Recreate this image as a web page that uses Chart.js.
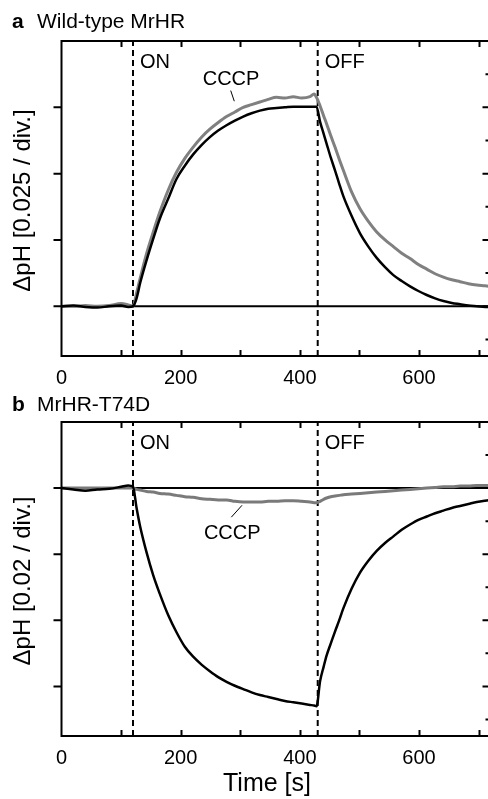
<!DOCTYPE html>
<html>
<head>
<meta charset="utf-8">
<script src="https://cdn.jsdelivr.net/npm/chart.js@4.4.1/dist/chart.umd.min.js"></script>
<style>
  html, body { margin: 0; padding: 0; background: #fff; overflow: hidden; width: 488px; height: 799px; }
  canvas { position: absolute; left: 0; }
  #panelA { top: 0; }
  #panelB { top: 395px; }
</style>
</head>
<body>
<canvas id="panelA" width="496" height="395"></canvas>
<canvas id="panelB" width="496" height="404"></canvas>
<script>
// time axis shared by both traces [s]
const times = [0, 20, 40, 60, 80, 100, 112, 120, 126, 132, 143, 154, 165, 179, 193, 207,
  221, 235, 249, 263, 277, 291, 305, 319, 333, 347, 361, 375, 389, 403, 417, 424,
  428, 434, 440, 445, 452, 459, 466, 473, 487, 501, 515, 529, 543, 557, 571, 585,
  599, 613, 627, 641, 655, 669, 683, 697, 711, 720];

// a: Wild-type MrHR (dpH)
const wtControl = [0, 0.00025, -0.00025, -0.0005, 0, 0.00025, -0.00025, 0, 0.003, 0.00875, 0.0175, 0.0255, 0.033, 0.0405, 0.048, 0.053,
  0.05725, 0.06075, 0.06375, 0.06625, 0.06825, 0.07, 0.0715, 0.07275, 0.07375, 0.0745, 0.07475, 0.075, 0.07525, 0.07525, 0.07525, 0.07525,
  0.07525, 0.0695, 0.065, 0.06125, 0.056, 0.05125, 0.04625, 0.0415, 0.034, 0.0275, 0.0225, 0.01825, 0.01475, 0.01175, 0.0095, 0.0075,
  0.00575, 0.00425, 0.003, 0.002, 0.00125, 0.00075, 0.00025, 0, -0.00025, -0.00025];
const wtCCCP = [0, 0, 0.00025, 0, 0.00025, 0.001, 0.0005, 0, 0.005, 0.0105, 0.02, 0.028, 0.0355, 0.04375, 0.0505, 0.05575,
  0.06, 0.06375, 0.06675, 0.06925, 0.0715, 0.07325, 0.075, 0.076, 0.077, 0.078, 0.07875, 0.0785, 0.079, 0.0785, 0.079, 0.08,
  0.07875, 0.0755, 0.07175, 0.06875, 0.06425, 0.06, 0.0555, 0.05125, 0.043, 0.03675, 0.032, 0.028, 0.025, 0.0225, 0.02, 0.018,
  0.01575, 0.014, 0.01225, 0.011, 0.01, 0.00925, 0.0085, 0.008, 0.00775, 0.0075];

// b: MrHR-T74D (dpH)
const t74dControl = [0, -0.0004, -0.0008, -0.0004, -0.0002, 0.0004, 0.0008, 0.0004, -0.006, -0.0116, -0.0196, -0.0264, -0.032, -0.0384, -0.0436, -0.048,
  -0.051, -0.0534, -0.0554, -0.0572, -0.0586, -0.0598, -0.0608, -0.0618, -0.0626, -0.0632, -0.0638, -0.0644, -0.0648, -0.0652, -0.0656, -0.0658,
  -0.066, -0.0584, -0.054, -0.0506, -0.047, -0.0434, -0.04, -0.0364, -0.0304, -0.0256, -0.022, -0.019, -0.0166, -0.0146, -0.0126, -0.011,
  -0.0096, -0.0086, -0.0076, -0.0068, -0.006, -0.0054, -0.0048, -0.0042, -0.0038, -0.0036];
const t74dCCCP = [0, 0, 0, 0, 0, 0, 0, 0, -0.0004, -0.0006, -0.001, -0.0012, -0.0016, -0.0018, -0.0022, -0.0026,
  -0.0028, -0.0032, -0.0034, -0.0036, -0.0036, -0.004, -0.0042, -0.0042, -0.0042, -0.004, -0.004, -0.0038, -0.0038, -0.004, -0.0042, -0.0044,
  -0.0044, -0.004, -0.0034, -0.003, -0.0026, -0.0024, -0.0022, -0.002, -0.0018, -0.0016, -0.0014, -0.0012, -0.001, -0.0008, -0.0006, -0.0004,
  -0.0002, 0, 0.0002, 0.0004, 0.0004, 0.0006, 0.0006, 0.0008, 0.0008, 0.0008];

// light switched on / off [s]
const lightOn = 120;
const lightOff = 430;

// ticks
const xTickLabels = [0, 200, 400, 600];
const xTickMarks = [100, 200, 300, 400, 500, 600, 700];
const yMajorA = [0, 0.025, 0.05, 0.075];
const yMinorA = [-0.0125, 0.0125, 0.0375, 0.0625, 0.0875];
const yMajorB = [0, -0.02, -0.04, -0.06];
const yMinorB = [0.01, -0.01, -0.03, -0.05, -0.07];

const FONT = '"Liberation Sans", Arial, Helvetica, sans-serif';
Chart.defaults.font.family = FONT;
Chart.defaults.color = '#000';

const toPoints = (ys) => ys.map((y, i) => ({ x: times[i], y: y }));

// draws the box, inward ticks and the text bits
const framePlugin = {
  id: 'frame',
  afterDraw(chart, args, o) {
    const { ctx, chartArea: a } = chart;
    const xs = chart.scales.x, ys = chart.scales.y;
    ctx.save();
    ctx.strokeStyle = '#000';
    ctx.lineWidth = 2;
    ctx.strokeRect(a.left, a.top, a.right - a.left, a.bottom - a.top);

    ctx.beginPath();
    xTickMarks.forEach(v => {
      const px = Math.round(xs.getPixelForValue(v)) + 0.5;
      ctx.moveTo(px, a.top); ctx.lineTo(px, a.top + 6);
      ctx.moveTo(px, a.bottom); ctx.lineTo(px, a.bottom - 6);
    });
    o.major.forEach(v => {
      const py = ys.getPixelForValue(v);
      ctx.moveTo(a.left - 8, py); ctx.lineTo(a.left, py);
      ctx.moveTo(a.right - 8, py); ctx.lineTo(a.right, py);
    });
    o.minor.forEach(v => {
      const py = ys.getPixelForValue(v);
      ctx.moveTo(a.right - 5, py); ctx.lineTo(a.right, py);
    });
    ctx.stroke();

    ctx.fillStyle = '#000';
    ctx.textBaseline = 'alphabetic';
    ctx.textAlign = 'left';
    ctx.font = '20px ' + FONT;
    ctx.fillText('ON', xs.getPixelForValue(lightOn) + 7, a.top + 27);
    ctx.fillText('OFF', xs.getPixelForValue(lightOff) + 7, a.top + 27);

    // CCCP label with its leader line
    const c = o.cccp;
    ctx.fillText('CCCP', xs.getPixelForValue(c.text[0]), ys.getPixelForValue(c.text[1]));
    ctx.lineWidth = 1;
    ctx.beginPath();
    ctx.moveTo(xs.getPixelForValue(c.from[0]), ys.getPixelForValue(c.from[1]));
    ctx.lineTo(xs.getPixelForValue(c.to[0]), ys.getPixelForValue(c.to[1]));
    ctx.stroke();

    // panel letter + name
    ctx.font = 'bold 21px ' + FONT;
    ctx.fillText(o.letter, 12, o.titleY);
    ctx.font = '21px ' + FONT;
    ctx.fillText(o.name, 37, o.titleY);

    // y title
    ctx.save();
    ctx.translate(23.5, (a.top + a.bottom) / 2 + 2);
    ctx.rotate(-Math.PI / 2);
    ctx.textAlign = 'center';
    ctx.textBaseline = 'middle';
    ctx.font = '24px ' + FONT;
    ctx.fillText(o.yTitle, 0, 0);
    ctx.restore();

    if (o.xTitle) {
      ctx.textAlign = 'center';
      ctx.textBaseline = 'middle';
      ctx.font = '25px ' + FONT;
      ctx.fillText(o.xTitle, 267, o.xTitleY);
    }
    ctx.restore();
  }
};

function makePanel(id, p) {
  const vline = (x) => [{ x: x, y: p.yMin }, { x: x, y: p.yMax }];
  return new Chart(document.getElementById(id), {
    type: 'line',
    data: {
      datasets: [
        { data: toPoints(p.control), borderColor: '#000', borderWidth: 2.5, cubicInterpolationMode: 'monotone' },
        { data: toPoints(p.cccp), borderColor: p.grey, borderWidth: 3, cubicInterpolationMode: 'monotone' },
        { data: [{ x: 0, y: 0 }, { x: 720, y: 0 }], borderColor: '#000', borderWidth: 2 },
        { data: vline(lightOn), borderColor: '#000', borderWidth: 2, borderDash: [6, 4] },
        { data: vline(lightOff), borderColor: '#000', borderWidth: 2, borderDash: [6, 4] }
      ]
    },
    options: {
      responsive: false,
      animation: false,
      devicePixelRatio: 1,
      elements: { point: { radius: 0 } },
      layout: { padding: { top: p.top, right: 5.5, left: 0, bottom: 0 } },
      plugins: {
        legend: { display: false },
        tooltip: { enabled: false },
        frame: p.frame
      },
      scales: {
        x: {
          type: 'linear', min: 0, max: 720,
          grid: { display: false, drawTicks: false },
          border: { display: false },
          afterBuildTicks: s => { s.ticks = xTickLabels.map(v => ({ value: v })); },
          afterFit: s => { s.height = p.xHeight; },
          ticks: { font: { size: 20 }, padding: 10, maxRotation: 0, color: '#000' }
        },
        y: {
          type: 'linear', min: p.yMin, max: p.yMax,
          grid: { display: false, drawTicks: false },
          border: { display: false },
          ticks: { display: false },
          afterFit: s => { s.width = 61.5; }
        }
      }
    },
    plugins: [framePlugin]
  });
}

makePanel('panelA', {
  control: wtControl, cccp: wtCCCP, grey: '#808080',
  yMin: -0.01875, yMax: 0.1, top: 41, xHeight: 39,
  frame: {
    major: yMajorA, minor: yMinorA, letter: 'a', name: 'Wild-type MrHR', titleY: 28,
    yTitle: 'ΔpH [0.025 / div.]',
    cccp: { text: [237, 0.0835], from: [284, 0.0813], to: [290, 0.0773] }
  }
});

makePanel('panelB', {
  control: t74dControl, cccp: t74dCCCP, grey: '#7a7a7a',
  yMin: -0.075, yMax: 0.02, top: 27, xHeight: 63,
  frame: {
    major: yMajorB, minor: yMinorB, letter: 'b', name: 'MrHR-T74D', titleY: 16,
    yTitle: 'ΔpH [0.02 / div.]',
    cccp: { text: [239, -0.0155], from: [303, -0.0052], to: [285, -0.0088] },
    xTitle: 'Time [s]', xTitleY: 389
  }
});
</script>
</body>
</html>
